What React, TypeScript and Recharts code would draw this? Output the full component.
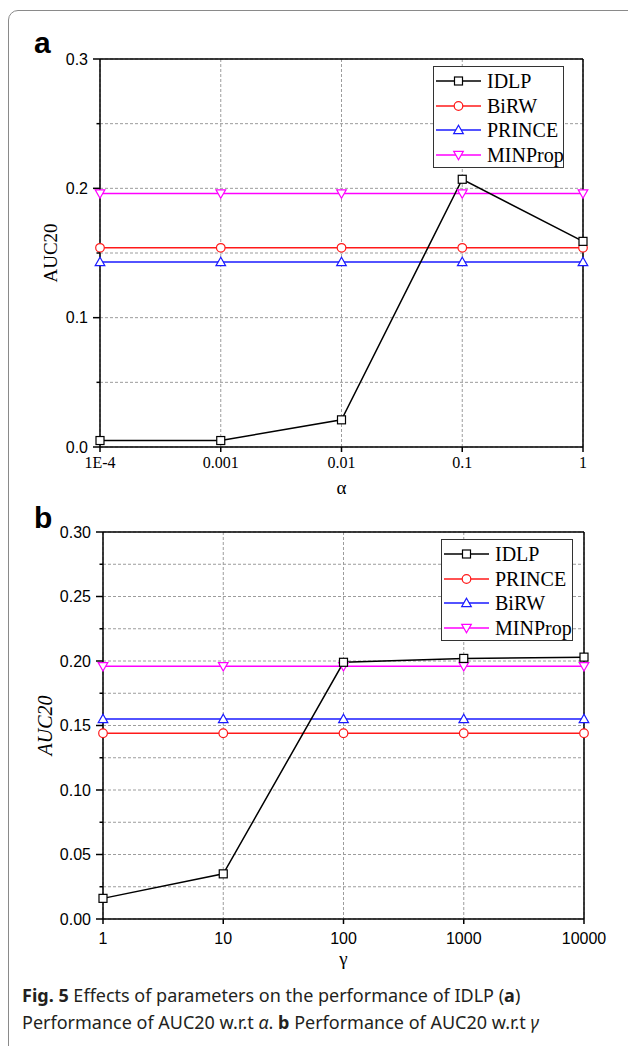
import { LineChart, Line, XAxis, YAxis, CartesianGrid, Legend, ReferenceLine } from "recharts";

const alphaValues = [0.0001, 0.001, 0.01, 0.1, 1];
const alphaLabels = ["1E-4", "0.001", "0.01", "0.1", "1"];
const idlpAlpha = [0.005, 0.005, 0.021, 0.207, 0.159];
const birwAlpha = [0.154, 0.154, 0.154, 0.154, 0.154];
const princeAlpha = [0.143, 0.143, 0.143, 0.143, 0.143];
const minpropAlpha = [0.196, 0.196, 0.196, 0.196, 0.196];

const gammaValues = [1, 10, 100, 1000, 10000];
const gammaLabels = ["1", "10", "100", "1000", "10000"];
const idlpGamma = [0.016, 0.035, 0.199, 0.202, 0.203];
const princeGamma = [0.144, 0.144, 0.144, 0.144, 0.144];
const birwGamma = [0.155, 0.155, 0.155, 0.155, 0.155];
const minpropGamma = [0.196, 0.196, 0.196, 0.196, 0.196];

const yTicksA = [0, 0.05, 0.1, 0.15, 0.2, 0.25, 0.3];
const yTicksB = [0, 0.025, 0.05, 0.075, 0.1, 0.125, 0.15, 0.175, 0.2, 0.225, 0.25, 0.275, 0.3];

const SANS = "'Liberation Sans', Arial, sans-serif";
const SERIF = "'Liberation Serif', 'Times New Roman', serif";

type Shape = "square" | "circle" | "up" | "down";
type Series = { name: string; values: number[]; color: string; shape: Shape };

function Marker({ shape, cx, cy, color }: { shape: Shape; cx: number; cy: number; color: string }) {
  if (shape === "square")
    return <rect x={cx - 4} y={cy - 4} width={8} height={8} fill="#fff" stroke={color} strokeWidth={1.2} />;
  if (shape === "circle") return <circle cx={cx} cy={cy} r={4.3} fill="#fff" stroke={color} strokeWidth={1.2} />;
  if (shape === "up")
    return (
      <path
        d={`M${cx},${cy - 4.8}L${cx + 4.8},${cy + 3.6}L${cx - 4.8},${cy + 3.6}Z`}
        fill="#fff"
        stroke={color}
        strokeWidth={1.2}
      />
    );
  return (
    <path
      d={`M${cx},${cy + 4.8}L${cx + 4.8},${cy - 3.6}L${cx - 4.8},${cy - 3.6}Z`}
      fill="#fff"
      stroke={color}
      strokeWidth={1.2}
    />
  );
}

function LegendBox({ series }: { series: Series[] }) {
  return (
    <div style={{ border: "1.5px solid #333", background: "#fff", padding: "2px 0", boxSizing: "border-box", height: "100%" }}>
      {series.map((s) => (
        <div key={s.name} style={{ display: "flex", alignItems: "center", height: 24.5 }}>
          <svg width={50} height={14} style={{ flex: "none" }}>
            <line x1={2} y1={7} x2={47} y2={7} stroke={s.color} strokeWidth={1.5} />
            <Marker shape={s.shape} cx={24.5} cy={7} color={s.color} />
          </svg>
          <span style={{ fontFamily: SERIF, fontSize: 20, color: "#000", marginLeft: 3, lineHeight: "20px" }}>{s.name}</span>
        </div>
      ))}
    </div>
  );
}

function YTick(props: any) {
  const { x, y, payload, step, digits } = props;
  const v = payload.value;
  const major = Math.abs(v / step - Math.round(v / step)) < 1e-6;
  const axisX = x + 12;
  return (
    <g>
      <line x1={axisX - (major ? 7 : 3.5)} y1={y} x2={axisX} y2={y} stroke="#000" strokeWidth={1.5} />
      {major && (
        <text x={x} y={y} dy="0.35em" textAnchor="end" fontFamily={SANS} fontSize={16} fill="#000">
          {v.toFixed(digits)}
        </text>
      )}
    </g>
  );
}

type PanelProps = {
  xs: number[];
  xLabels: string[];
  series: Series[];
  yTicks: number[];
  majorStep: number;
  digits: number;
  width: number;
  height: number;
  margin: { top: number; right: number; bottom: number; left: number };
  xLabel: string;
  xLabelOffset: number;
  xFont: string;
  xTickMargin: number;
  yLabelStyle: any;
  legendPos: { left: number; top: number; width: number; height: number };
};

function Panel(p: PanelProps) {
  const rows = p.xs.map((x, i) => {
    const r: any = { x };
    p.series.forEach((s) => (r[s.name] = s.values[i]));
    return r;
  });
  const ordered = [...p.series.slice(1), p.series[0]];
  return (
    <LineChart width={p.width} height={p.height} data={rows} margin={p.margin}>
      <CartesianGrid stroke="#9c9c9c" strokeDasharray="3 2" strokeWidth={1} />
      <XAxis
        type="number"
        dataKey="x"
        scale="log"
        domain={[p.xs[0], p.xs[p.xs.length - 1]]}
        ticks={p.xs}
        interval={0}
        height={50}
        tickSize={5}
        tickMargin={p.xTickMargin}
        tickFormatter={(v: number) => p.xLabels[p.xs.findIndex((x) => Math.abs(x - v) / x < 1e-6)] ?? ""}
        axisLine={{ stroke: "#000", strokeWidth: 1.5 }}
        tickLine={{ stroke: "#000", strokeWidth: 1.5 }}
        tick={{ fill: "#000", fontSize: 16, fontFamily: p.xFont }}
        label={{ value: p.xLabel, position: "insideBottom", offset: p.xLabelOffset, fill: "#000", fontSize: 19, fontFamily: SERIF }}
      />
      <YAxis
        type="number"
        domain={[0, 0.3]}
        ticks={p.yTicks}
        interval={0}
        width={60}
        tickSize={7}
        tickMargin={5}
        tickLine={false}
        axisLine={{ stroke: "#000", strokeWidth: 1.5 }}
        tick={(t: any) => <YTick {...t} step={p.majorStep} digits={p.digits} />}
        label={{ value: "AUC20", angle: -90, position: "insideLeft", ...p.yLabelStyle }}
      />
      <ReferenceLine y={0.3} stroke="#000" strokeWidth={1.5} />
      <ReferenceLine x={p.xs[p.xs.length - 1]} stroke="#000" strokeWidth={1.5} />
      {ordered.map((s) => (
        <Line
          key={s.name}
          dataKey={s.name}
          stroke={s.color}
          strokeWidth={1.5}
          isAnimationActive={false}
          dot={(d: any) => <Marker key={`${s.name}-${d.index}`} shape={s.shape} cx={d.cx} cy={d.cy} color={s.color} />}
          activeDot={false}
        />
      ))}
      <Legend
        layout="vertical"
        align="center"
        verticalAlign="middle"
        wrapperStyle={{ ...p.legendPos }}
        content={() => <LegendBox series={p.series} />}
      />
    </LineChart>
  );
}

const seriesA: Series[] = [
  { name: "IDLP", values: idlpAlpha, color: "#000000", shape: "square" },
  { name: "BiRW", values: birwAlpha, color: "#ff1a1a", shape: "circle" },
  { name: "PRINCE", values: princeAlpha, color: "#1a1aff", shape: "up" },
  { name: "MINProp", values: minpropAlpha, color: "#ff00ff", shape: "down" },
];

const seriesB: Series[] = [
  { name: "IDLP", values: idlpGamma, color: "#000000", shape: "square" },
  { name: "PRINCE", values: princeGamma, color: "#ff1a1a", shape: "circle" },
  { name: "BiRW", values: birwGamma, color: "#1a1aff", shape: "up" },
  { name: "MINProp", values: minpropGamma, color: "#ff00ff", shape: "down" },
];

export default function App() {
  return (
    <div style={{ position: "absolute", left: 0, top: 0, width: 628, height: 1046, overflow: "hidden", background: "#fff" }}>
      <div
        style={{
          position: "absolute",
          left: 8,
          top: 10,
          width: 700,
          height: 1100,
          border: "1.5px solid #8a8a8a",
          borderRadius: 10,
        }}
      />
      <div style={{ position: "absolute", left: 0, top: 0 }}>
        <Panel
          xs={alphaValues}
          xLabels={alphaLabels}
          series={seriesA}
          yTicks={yTicksA}
          majorStep={0.1}
          digits={1}
          width={628}
          height={505}
          margin={{ top: 59, right: 45, bottom: 8, left: 40 }}
          xLabel="α"
          xLabelOffset={3}
          xFont={SERIF}
          xTickMargin={5}
          yLabelStyle={{ offset: 10, fill: "#000", fontSize: 19, fontFamily: SERIF, style: { textAnchor: "middle" } }}
          legendPos={{ left: 433, top: 66, width: 131, height: 102 }}
        />
      </div>
      <div style={{ position: "absolute", left: 0, top: 500 }}>
        <Panel
          xs={gammaValues}
          xLabels={gammaLabels}
          series={seriesB}
          yTicks={yTicksB}
          majorStep={0.05}
          digits={2}
          width={628}
          height={480}
          margin={{ top: 32, right: 44, bottom: 11, left: 43 }}
          xLabel="γ"
          xLabelOffset={4}
          xFont={SANS}
          xTickMargin={9}
          yLabelStyle={{ offset: 2, fill: "#000", fontSize: 20, fontFamily: SERIF, fontStyle: "italic", style: { textAnchor: "middle" } }}
          legendPos={{ left: 441, top: 39, width: 132, height: 102 }}
        />
      </div>
      <div style={{ position: "absolute", left: 34, top: 28, fontFamily: SANS, fontWeight: 700, fontSize: 30, lineHeight: "30px", color: "#000" }}>
        a
      </div>
      <div style={{ position: "absolute", left: 34, top: 503, fontFamily: SANS, fontWeight: 700, fontSize: 30, lineHeight: "30px", color: "#000" }}>
        b
      </div>
      <div
        style={{
          position: "absolute",
          left: 22,
          top: 982,
          width: 606,
          fontFamily: "'Noto Sans', 'Open Sans', sans-serif",
          fontSize: 18,
          lineHeight: "27px",
          color: "#231f20",
          whiteSpace: "nowrap",
        }}
      >
        <div>
          <b>Fig. 5</b> Effects of parameters on the performance of IDLP (<b>a</b>)
        </div>
        <div>
          Performance of AUC20 w.r.t <i>α</i>. <b>b</b> Performance of AUC20 w.r.t <i>γ</i>
        </div>
      </div>
    </div>
  );
}
